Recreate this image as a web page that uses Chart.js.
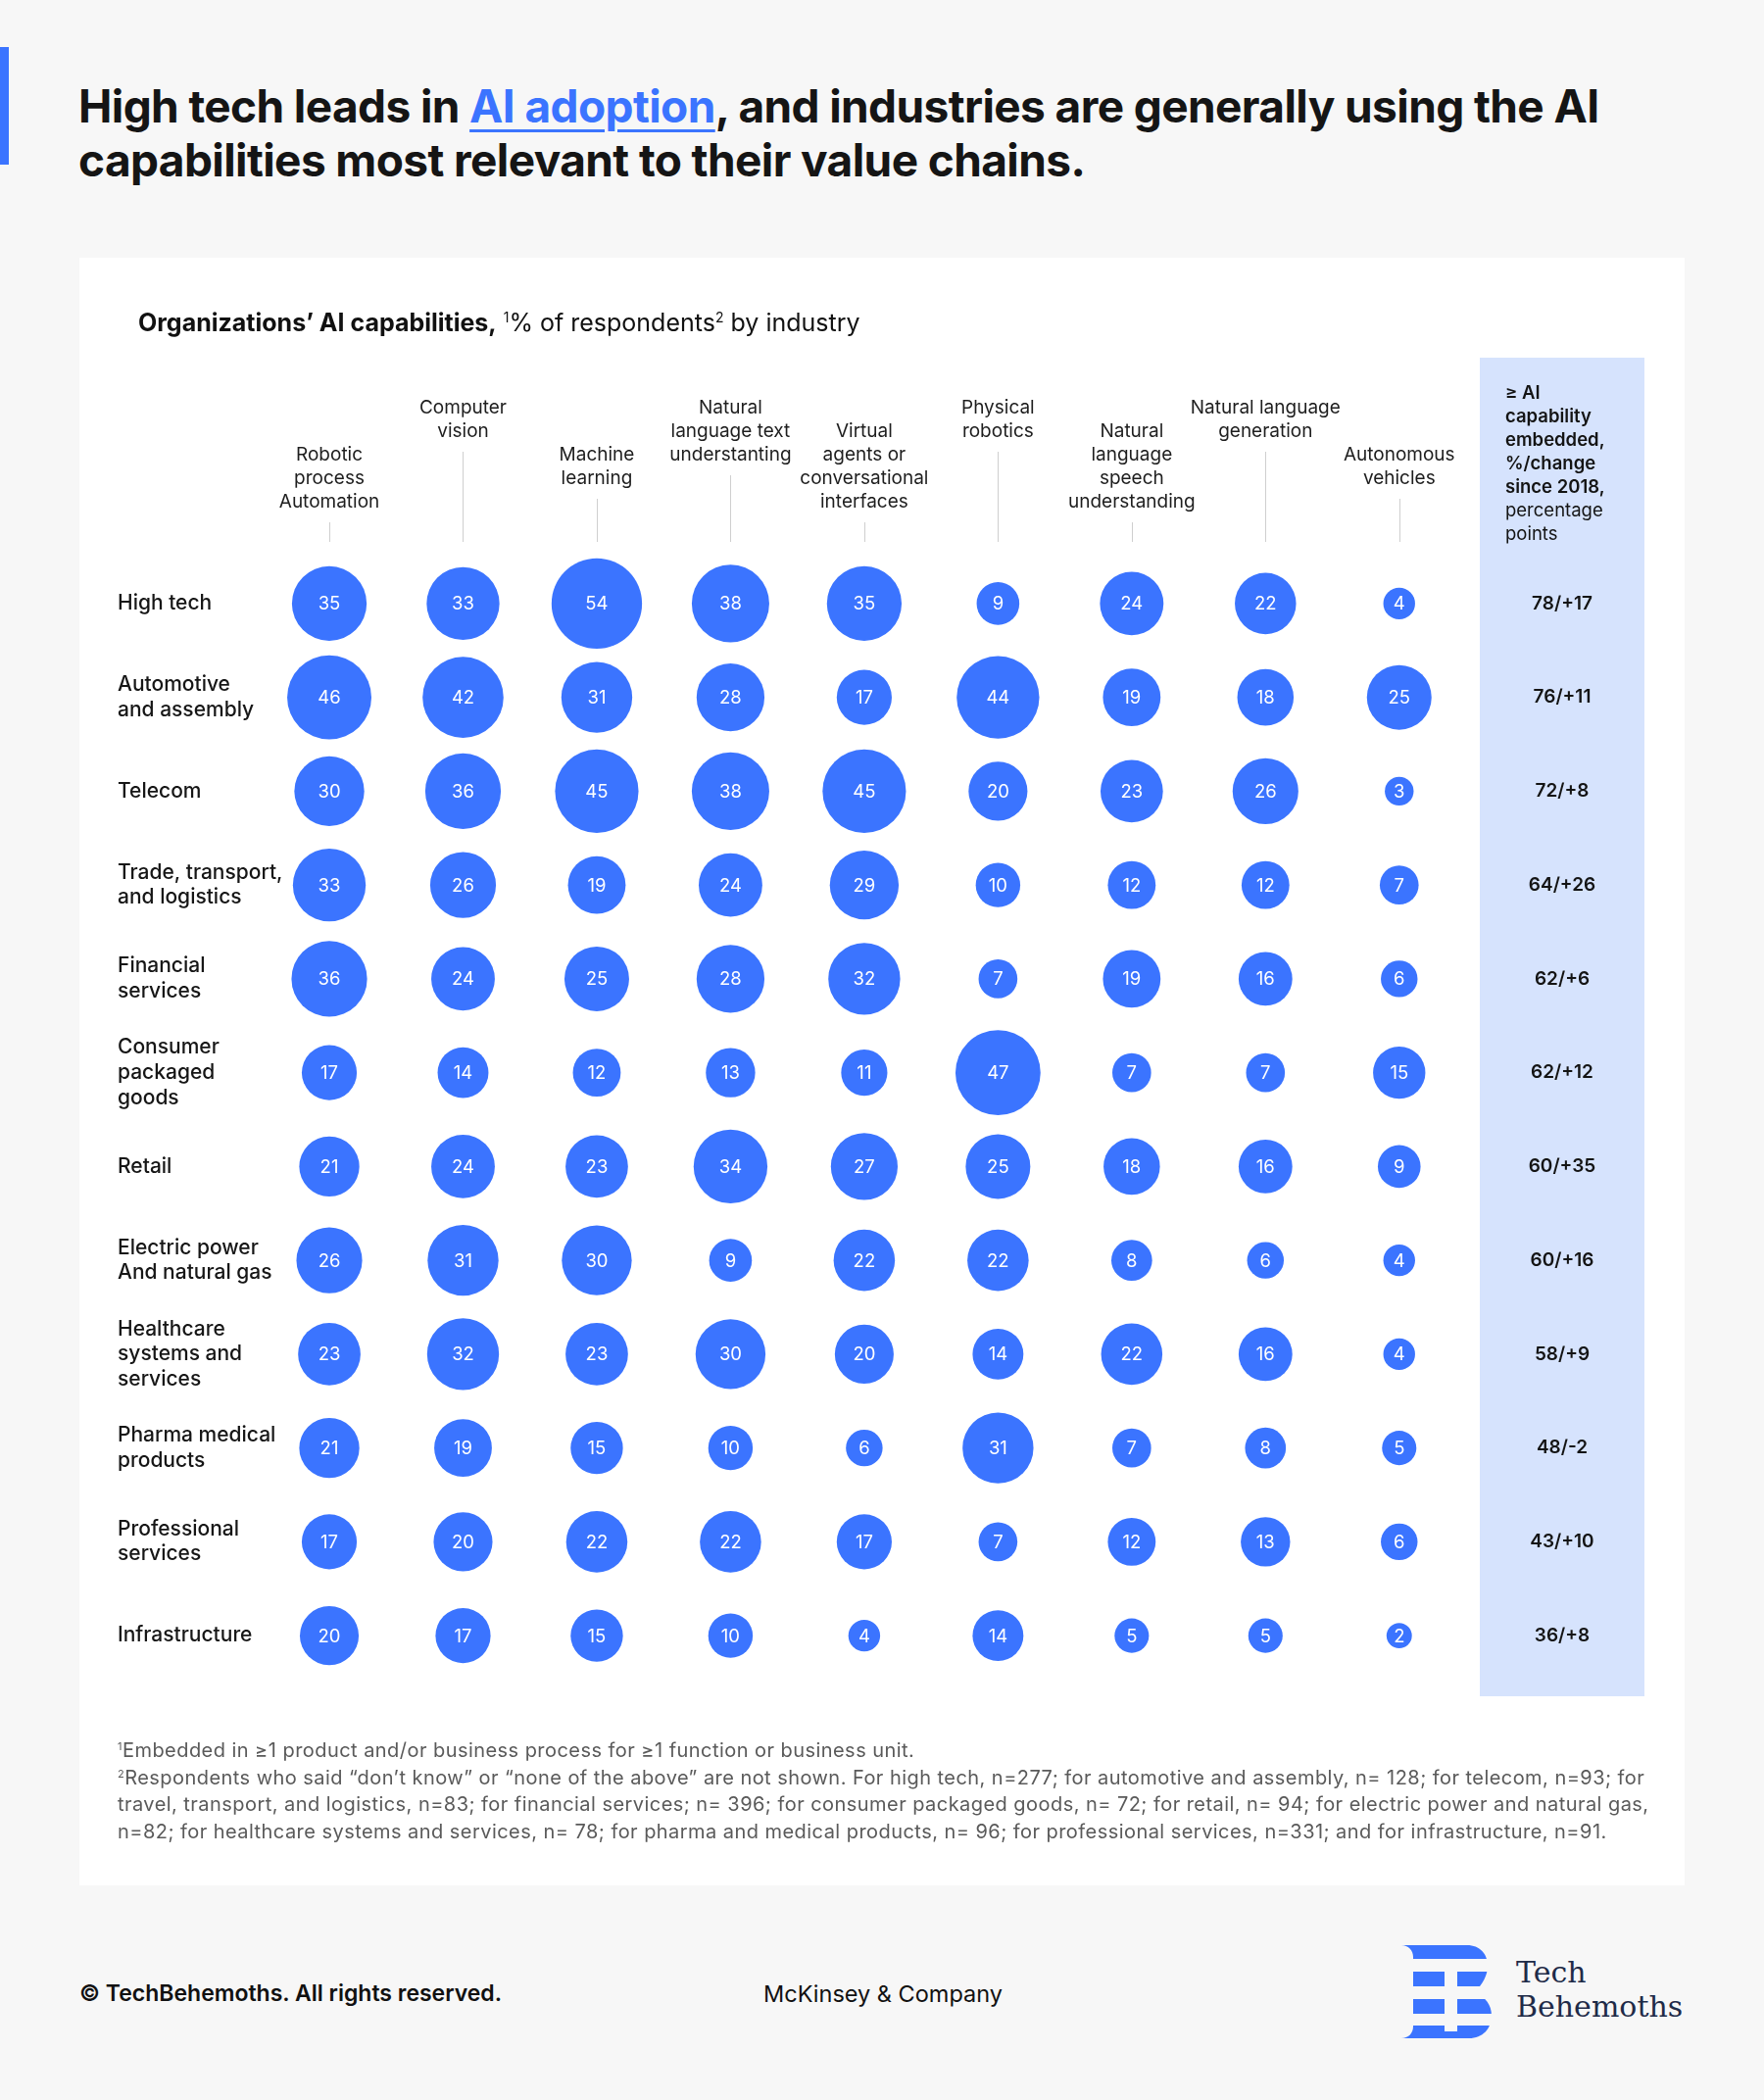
<!DOCTYPE html>
<html>
<head>
<meta charset="utf-8">
<script src="https://cdn.jsdelivr.net/npm/chart.js@4.4.1/dist/chart.umd.min.js"></script>
<style>
  html, body { margin: 0; padding: 0; }
  body {
    width: 1800px; height: 2143px; position: relative; overflow: hidden;
    background: #f7f7f7; font-family: Inter, "Noto Sans", sans-serif; color: #111;
  }
  .accent { position: absolute; left: 0; top: 48px; width: 9px; height: 120px; background: #3b74ff; }
  h1 {
    position: absolute; left: 80px; top: 81px; margin: 0;
    font-size: 46px; line-height: 54.5px; font-weight: 700; letter-spacing: -0.6px; color: #151515;
  }
  h1 a { color: #3b74ff; text-decoration: underline; text-decoration-thickness: 3px; text-underline-offset: 7px; }
  .card { position: absolute; left: 81px; top: 263px; width: 1638px; height: 1661px; background: #fff; }
  .card canvas { position: absolute; left: 0; top: 0; }
  .subtitle {
    position: absolute; left: 60px; top: 51px; font-size: 25px; color: #111; white-space: nowrap;
  }
  .subtitle b { font-weight: 700; }
  .subtitle sup { font-size: 14px; vertical-align: 9px; line-height: 0; }
  .notes {
    position: absolute; left: 39px; top: 1510px; font-size: 20px; line-height: 27.5px;
    color: #5a5a5a; white-space: nowrap; letter-spacing: 0.45px;
  }
  .notes sup { font-size: 11px; vertical-align: 7px; line-height: 0; }
  .footer { position: absolute; top: 2020px; white-space: nowrap; }
  .brand { position: absolute; left: 1547px; top: 1995px; font-family: "DejaVu Serif", "Liberation Serif", serif;
    font-size: 30px; line-height: 35px; color: #1f2b48; }
</style>
</head>
<body>
<div class="accent"></div>
<h1>High tech leads in <a>AI adoption</a>, and industries are generally using the AI<br>capabilities most relevant to their value chains.</h1>

<div class="card">
  <canvas id="matrix" width="1638" height="1661" style="width:1638px;height:1661px"></canvas>
  <div class="subtitle"><b>Organizations’ AI capabilities,</b> <sup>1</sup>% of respondents<sup>2</sup> by industry</div>
  <div class="notes">
    <sup>1</sup>Embedded in ≥1 product and/or business process for ≥1 function or business unit.<br>
    <sup>2</sup>Respondents who said “don’t know” or “none of the above” are not shown. For high tech, n=277; for automotive and assembly, n= 128; for telecom, n=93; for<br>
    travel, transport, and logistics, n=83; for financial services; n= 396; for consumer packaged goods, n= 72; for retail, n= 94; for electric power and natural gas,<br>
    n=82; for healthcare systems and services, n= 78; for pharma and medical products, n= 96; for professional services, n=331; and for infrastructure, n=91.
  </div>
</div>

<div class="footer" style="left:81px;font-size:23px;font-weight:600">© TechBehemoths. All rights reserved.</div>
<div class="footer" style="left:779px;font-size:23.5px;font-weight:400">McKinsey &amp; Company</div>

<svg style="position:absolute;left:1425px;top:1980px" width="105" height="108" viewBox="0 0 105 108">
  <path fill="#3b74ff" d="M5,5 H72 C85,5 93,14 93,26 C93,36 88,44 80,53 C91,58 97,66 97,77 C97,90 88,100 74,100 H5 C12,100 17,95 17,88 V17 C17,10 12,5 5,5 Z"/>
  <rect fill="#f7f7f7" x="16" y="19" width="86" height="13"/>
  <rect fill="#f7f7f7" x="16" y="47" width="86" height="13"/>
  <rect fill="#f7f7f7" x="16" y="75" width="86" height="12"/>
  <rect fill="#f7f7f7" x="49" y="19" width="13" height="74"/>
</svg>
<div class="brand">Tech<br>Behemoths</div>

<script>
// industries (rows) and AI capabilities (columns)
const industries = [
  ['High tech'], ['Automotive', 'and assembly'], ['Telecom'], ['Trade, transport,', 'and logistics'],
  ['Financial', 'services'], ['Consumer', 'packaged', 'goods'], ['Retail'], ['Electric power', 'And natural gas'],
  ['Healthcare', 'systems and', 'services'], ['Pharma medical', 'products'], ['Professional', 'services'], ['Infrastructure']
];
const capabilities = [
  ['Robotic', 'process', 'Automation'], ['Computer', 'vision'], ['Machine', 'learning'],
  ['Natural', 'language text', 'understanting'], ['Virtual', 'agents or', 'conversational', 'interfaces'],
  ['Physical', 'robotics'], ['Natural', 'language', 'speech', 'understanding'],
  ['Natural language', 'generation'], ['Autonomous', 'vehicles']
];

// % of respondents, one array per capability, in industry order
const roboticProcess     = [35, 46, 30, 33, 36, 17, 21, 26, 23, 21, 17, 20];
const computerVision     = [33, 42, 36, 26, 24, 14, 24, 31, 32, 19, 20, 17];
const machineLearning    = [54, 31, 45, 19, 25, 12, 23, 30, 23, 15, 22, 15];
const nlText             = [38, 28, 38, 24, 28, 13, 34,  9, 30, 10, 22, 10];
const virtualAgents      = [35, 17, 45, 29, 32, 11, 27, 22, 20,  6, 17,  4];
const physicalRobotics   = [ 9, 44, 20, 10,  7, 47, 25, 22, 14, 31,  7, 14];
const nlSpeech           = [24, 19, 23, 12, 19,  7, 18,  8, 22,  7, 12,  5];
const nlGeneration       = [22, 18, 26, 12, 16,  7, 16,  6, 16,  8, 13,  5];
const autonomousVehicles = [ 4, 25,  3,  7,  6, 15,  9,  4,  4,  5,  6,  2];

// ≥1 AI capability embedded, % and change since 2018 (percentage points)
const embeddedShare   = [78, 76, 72, 64, 62, 62, 60, 60, 58, 48, 43, 36];
const changeSince2018 = [17, 11,  8, 26,  6, 12, 35, 16,  9, -2, 10,  8];

const panelHeader = [
  ['≥ AI', true], ['capability', true], ['embedded,', true], ['%/change', true],
  ['since 2018,', true], ['percentage', false], ['points', false]
];
// which text line each column header starts on (header labels are staggered)
const headerStartLine = [2, 0, 2, 0, 1, 0, 1, 0, 2];

const BLUE = '#3b74ff';
const FONT = 'Inter, "Noto Sans", sans-serif';

const series = [roboticProcess, computerVision, machineLearning, nlText, virtualAgents,
  physicalRobotics, nlSpeech, nlGeneration, autonomousVehicles];
const points = [];
industries.forEach((_, i) => {
  series.forEach((vals, j) => points.push({ x: j, y: i, v: vals[i] }));
});

// header labels, guide lines, the blue summary panel and bubble numbers
const matrixDecor = {
  id: 'matrixDecor',
  beforeDatasetsDraw(chart) {
    const { ctx, chartArea, scales: { x, y } } = chart;
    ctx.save();

    // summary panel on the right
    const pLeft = chartArea.right + 14, pRight = chartArea.right + 182;
    const pTop = chartArea.top - 203, pBottom = chartArea.bottom + 14;
    ctx.fillStyle = '#d6e3fd';
    ctx.fillRect(pLeft, pTop, pRight - pLeft, pBottom - pTop);

    ctx.textBaseline = 'middle';
    ctx.textAlign = 'left';
    ctx.fillStyle = '#141414';
    panelHeader.forEach(([txt, bold], k) => {
      ctx.font = (bold ? '600 ' : '400 ') + '18.5px ' + FONT;
      ctx.fillText(txt, pLeft + 26, chartArea.top - 167 + k * 24);
    });
    ctx.textAlign = 'center';
    ctx.font = '600 19px ' + FONT;
    embeddedShare.forEach((s, i) => {
      const c = changeSince2018[i];
      ctx.fillText(s + '/' + (c >= 0 ? '+' : '') + c, (pLeft + pRight) / 2, y.getPixelForValue(i));
    });

    // column headers
    ctx.font = '400 19px ' + FONT;
    ctx.fillStyle = '#1e1e1e';
    capabilities.forEach((lines, j) => {
      const cx = x.getPixelForValue(j);
      const first = chartArea.top - 152 + headerStartLine[j] * 24;
      lines.forEach((t, k) => ctx.fillText(t, cx, first + k * 24));
      const lineTop = first + (lines.length - 1) * 24 + 21;
      ctx.strokeStyle = '#cfcfcf';
      ctx.lineWidth = 1;
      ctx.beginPath();
      ctx.moveTo(Math.round(cx) + 0.5, lineTop);
      ctx.lineTo(Math.round(cx) + 0.5, chartArea.top - 15);
      ctx.stroke();
    });
    ctx.restore();
  },
  afterDatasetsDraw(chart) {
    const { ctx } = chart;
    const meta = chart.getDatasetMeta(0);
    const data = chart.data.datasets[0].data;
    ctx.save();
    ctx.fillStyle = '#ffffff';
    ctx.font = '400 18.5px ' + FONT;
    ctx.textAlign = 'center';
    ctx.textBaseline = 'middle';
    meta.data.forEach((el, k) => ctx.fillText(String(data[k].v), el.x, el.y + 1));
    ctx.restore();
  }
};

new Chart(document.getElementById('matrix'), {
  type: 'bubble',
  data: {
    datasets: [{
      data: points,
      backgroundColor: BLUE,
      borderWidth: 0,
      clip: false,
      radius: ctx => 5 + 5.6 * Math.sqrt(ctx.raw.v),
      hoverRadius: 0
    }]
  },
  options: {
    responsive: false,
    animation: false,
    events: [],
    layout: { padding: { left: 39, right: 223, top: 305, bottom: 207 } },
    plugins: { legend: { display: false }, tooltip: { enabled: false } },
    scales: {
      // the left edge starts a little before the first column so the industry labels fit
      x: { type: 'linear', min: -0.264, max: 8.5, display: false },
      y: {
        type: 'linear', reverse: true, min: -0.5, max: 11.5,
        afterBuildTicks: s => { s.ticks = industries.map((_, i) => ({ value: i })); },
        afterFit: s => { s.width = 180; },
        grid: { display: false },
        border: { display: false },
        ticks: {
          callback: v => industries[v],
          crossAlign: 'far',
          autoSkip: false,
          color: '#161616',
          font: { family: FONT, size: 21, weight: '500', lineHeight: 1.22 }
        }
      }
    }
  },
  plugins: [matrixDecor]
});
</script>
</body>
</html>
